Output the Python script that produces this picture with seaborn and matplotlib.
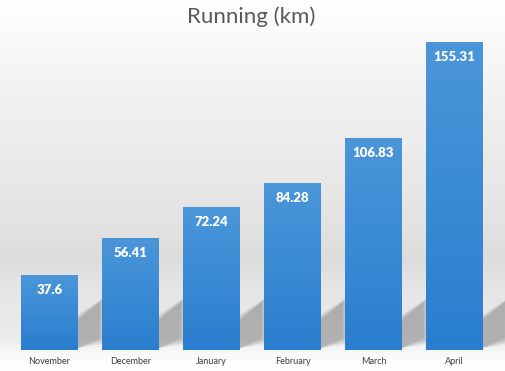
import numpy as np
import seaborn as sns
import matplotlib.pyplot as plt
from matplotlib.colors import LinearSegmentedColormap
from matplotlib.patches import Polygon

# data
months = ["November", "December", "January", "February", "March", "April"]
km = [37.6, 56.41, 72.24, 84.28, 106.83, 155.31]
value_labels = ["37.6", "56.41", "72.24", "84.28", "106.83", "155.31"]

sns.set_theme(style="white")
plt.rcParams["font.family"] = ["Lato", "DejaVu Sans"]

fig = plt.figure(figsize=(5.05, 3.71), dpi=100)

# soft grey backdrop, light at the top, darker behind the bars, white at the bottom
bg = fig.add_axes([0, 0, 1, 1], zorder=0)
bg_cmap = LinearSegmentedColormap.from_list("bg", [
    (0.0, "#ffffff"), (0.25, "#f2f2f2"), (0.62, "#e2e2e2"),
    (0.70, "#dcdcdc"), (0.76, "#e4e4e4"), (0.92, "#ececec"),
    (0.95, "#f8f8f8"), (1.0, "#ffffff")])
bg.imshow(np.linspace(0, 1, 256).reshape(-1, 1), cmap=bg_cmap, aspect="auto",
          extent=[0, 1, 0, 1], origin="upper")
bg.set_axis_off()

ax = fig.add_axes([0, 21 / 371, 1, 320 / 371], zorder=1)
ax.patch.set_alpha(0)
sns.barplot(x=months, y=km, ax=ax, width=0.70, color="#3a8ad4", saturation=1)

xlim = (-0.611, 5.623)
ylim = (0, 161.4)
px_x = (xlim[1] - xlim[0]) / 505
px_y = (ylim[1] - ylim[0]) / 320

bar_cmap = LinearSegmentedColormap.from_list("bar", ["#2a7ecf", "#4b96d9"])
for p in ax.patches:
    x0, w, h = p.get_x(), p.get_width(), p.get_height()
    xr = x0 + w
    # perspective-like shadow behind each bar, layered to look blurred
    for k, a in enumerate([0.05, 0.06, 0.07, 0.08, 0.09]):
        g = (4 - k) * 1.5
        shadow = Polygon([(xr, 2 * px_y), (xr, (30 + g) * px_y),
                          (xr + (22 + g) * px_x, (48 + g) * px_y),
                          (xr + (22 + g) * px_x, (12 - g) * px_y)],
                         closed=True, facecolor="#303030", edgecolor="none",
                         alpha=a, zorder=0.5)
        ax.add_patch(shadow)
    p.set_edgecolor("none")
    im = ax.imshow(np.linspace(0, 1, 100).reshape(-1, 1), cmap=bar_cmap,
                   aspect="auto", extent=[x0, xr, 0, h], origin="lower",
                   zorder=p.get_zorder() + 0.1)
    im.set_clip_path(p)

for i, (v, lab) in enumerate(zip(km, value_labels)):
    ax.annotate(lab, (i, v), xytext=(0, -15 * 0.72), textcoords="offset points",
                ha="center", va="center", color="white", fontsize=9.5,
                fontweight="heavy", zorder=5)

ax.set_xlim(*xlim)
ax.set_ylim(*ylim)
ax.set_yticks([])
ax.set_xlabel("")
ax.set_ylabel("")
ax.tick_params(axis="x", length=0, pad=5.4, labelsize=6.5, labelcolor="#404040")
sns.despine(ax=ax, left=True, bottom=True)

fig.text(0.497, 1 - 17 / 371, "Running (km)", ha="center", va="center",
         fontsize=16, color="#595959")

fig.savefig("out.png", dpi=100)
